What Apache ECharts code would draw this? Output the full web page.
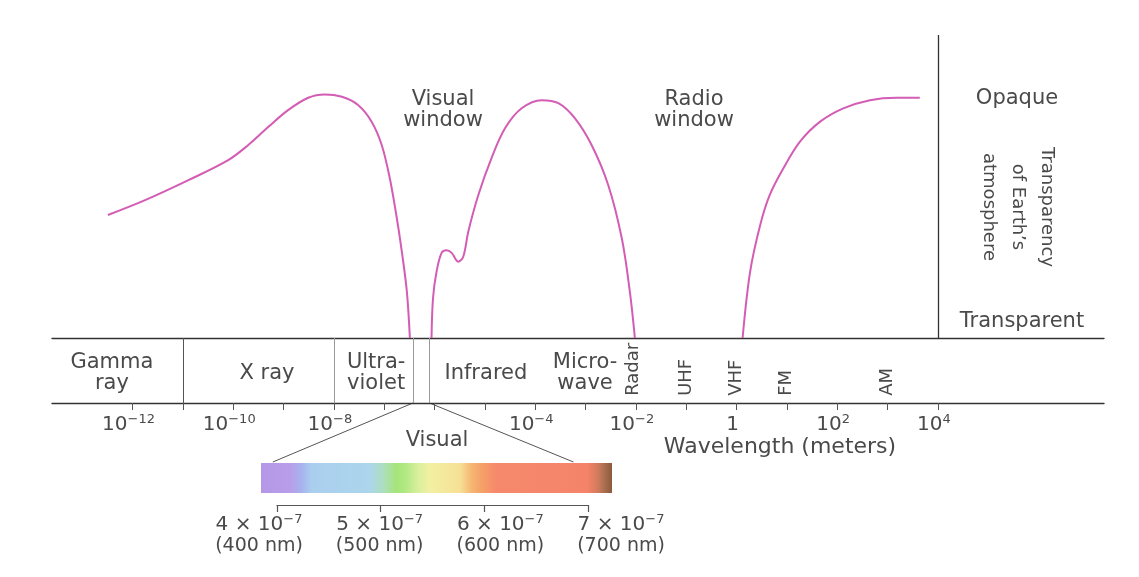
<!DOCTYPE html>
<html><head><meta charset="utf-8">
<script src="https://cdn.jsdelivr.net/npm/echarts@6/dist/echarts.min.js"></script>
<style>html,body{margin:0;padding:0;background:#fff}#c{width:1139px;height:577px}</style>
</head><body><div id="c"></div>
<script>
// ---- data (x = log10 of wavelength in metres, y = opacity of the atmosphere, 0..100) ----
const curveUV = [[-12.49,40.6],[-11.75,45.5],[-10.89,52.1],[-10.10,58.7],[-9.70,63.7],[-9.30,69.7],[-8.91,75.2],[-8.51,79.3],[-8.18,80.4],[-7.84,79.6],[-7.52,76.9],[-7.25,71.4],[-7.05,63.7],[-6.89,52.8],[-6.75,39.6],[-6.65,28.5],[-6.55,15.3],[-6.49,0]];
const curveIR = [[-6.06,0],[-6.03,13.2],[-5.96,21.9],[-5.86,28.1],[-5.76,29.0],[-5.66,28.1],[-5.53,25.2],[-5.43,26.8],[-5.33,35.1],[-5.13,47.2],[-4.87,59.3],[-4.60,69.2],[-4.27,75.8],[-3.87,78.5],[-3.54,77.5],[-3.21,72.5],[-2.88,63.7],[-2.55,50.5],[-2.28,32.9],[-2.12,15.3],[-2.02,0]];
const curveRadio = [[0.12,0],[0.27,21.9],[0.47,37.3],[0.66,47.2],[0.93,56.0],[1.26,64.8],[1.66,71.4],[2.12,75.8],[2.65,78.5],[3.18,79.3],[3.64,79.3]];
const tickDecades = [-12,-11,-10,-9,-8,-7,-6,-5,-4,-3,-2,-1,0,1,2,3,4];
const labelDecades = [-12,-10,-8,-4,-2,0,2,4];
const bandBoundaries = [-11, -8, -6.43, -6.1];
const bandNames = ['Gamma\nray', 'X ray', 'Ultra-\nviolet', 'Infrared', 'Micro-\nwave'];
const bandCenters = [-12.41, -9.33, -7.16, -4.98, -3.01];
const radioNames = ['Radar', 'UHF', 'VHF', 'FM', 'AM'];
const radioCenters = [-2.06, -1.0, 0.0, 0.99, 3.0];
const opaqueAxisAt = 4;
const spectrumRange = [384.6, 723.2];       // nm, extent of the colour bar
const nmTicks = [400, 500, 600, 700];
const nmLabels = ['4', '5', '6', '7'];
const visualEdges = [-6.43, -6.1];          // log10 m, edges of visual window
const spectrumEdges = [396, 686];           // nm, where the connectors meet the bar

const TXT = '#4a4a4a';
const FF = '"DejaVu Sans", sans-serif';
const CURVE = '#d35db4';

const chart = echarts.init(document.getElementById('c'), null, {renderer: 'canvas'});

function decadeLabel(v) {
  const n = Math.round(v);
  if (n === 0) return '{b|1}';
  return '{b|10}{s|' + (n < 0 ? '\u2212' : '') + Math.abs(n) + '}';
}

const curveLine = (data) => ({
  type: 'line', xAxisIndex: 0, yAxisIndex: 0, data, smooth: 0.35,
  showSymbol: false, symbol: 'none', silent: true,
  lineStyle: {color: CURVE, width: 2}
});

const option = {
  animation: false,
  backgroundColor: '#ffffff',
  grid: [
    {left: 52, right: 35, top: 35, bottom: 239},      // curve
    {left: 52, right: 35, top: 338, bottom: 174},     // band strip
    {left: 261, right: 527, top: 463, bottom: 84},    // colour bar
    {left: 277, right: 551, top: 495, bottom: 72},    // bracket
    {left: 259, right: 518, top: 495, bottom: 72}     // bracket labels
  ],
  xAxis: [
    {gridIndex: 0, type: 'value', min: -13.6, max: 7.3,
      axisLine: {show: true, lineStyle: {color: '#333', width: 1.4}},
      axisTick: {show: false}, axisLabel: {show: false}, splitLine: {show: false}},
    {gridIndex: 1, type: 'value', min: -13.6, max: 7.3,
      axisLine: {show: true, lineStyle: {color: '#333', width: 1.4}},
      axisTick: {show: true, customValues: tickDecades, length: 7, lineStyle: {color: '#555', width: 1}},
      axisLabel: {show: true, customValues: labelDecades, margin: 10, padding: [0, 8, 0, 0],
        formatter: decadeLabel,
        rich: {
          b: {fontFamily: FF, fontSize: 20, lineHeight: 22, color: TXT, verticalAlign: 'bottom'},
          s: {fontFamily: FF, fontSize: 13, lineHeight: 13, color: TXT, verticalAlign: 'top'}
        }},
      splitLine: {show: false}},
    {gridIndex: 2, type: 'value', min: spectrumRange[0], max: spectrumRange[1], show: false},
    {gridIndex: 3, type: 'value', min: 400, max: 700,
      axisLine: {show: true, lineStyle: {color: '#555', width: 1.2}},
      axisTick: {show: true, customValues: nmTicks, length: 7, lineStyle: {color: '#555', width: 1.2}},
      axisLabel: {show: false}, splitLine: {show: false}},
    {gridIndex: 4, type: 'value', min: 400, max: 700,
      axisLine: {show: false}, axisTick: {show: false}, splitLine: {show: false},
      axisLabel: {show: true, customValues: nmTicks, margin: 8,
        formatter: (v) => {
          const i = nmTicks.indexOf(Math.round(v));
          return '{a|' + nmLabels[i] + ' \u00d7 10}{s|\u22127}\n{n|(' + Math.round(v) + ' nm)}';
        },
        rich: {
          a: {fontFamily: FF, fontSize: 20, lineHeight: 22, color: TXT, verticalAlign: 'bottom'},
          s: {fontFamily: FF, fontSize: 13, lineHeight: 13, color: TXT, verticalAlign: 'top'},
          n: {fontFamily: FF, fontSize: 19, lineHeight: 22, color: TXT}
        }}}
  ],
  yAxis: [
    {gridIndex: 0, type: 'value', min: 0, max: 100, show: false},
    {gridIndex: 1, type: 'value', min: 0, max: 1, show: false},
    {gridIndex: 2, type: 'value', min: 0, max: 1, show: false},
    {gridIndex: 3, type: 'value', min: 0, max: 1, show: false},
    {gridIndex: 4, type: 'value', min: 0, max: 1, show: false}
  ],
  series: [
    Object.assign(curveLine(curveUV), {
      markLine: {silent: true, symbol: 'none', label: {show: false},
        lineStyle: {color: '#333', width: 1.3, type: 'solid'},
        data: [{xAxis: opaqueAxisAt}]}
    }),
    curveLine(curveIR),
    curveLine(curveRadio),
    {
      type: 'scatter', xAxisIndex: 1, yAxisIndex: 1, symbolSize: 0, silent: true,
      itemStyle: {opacity: 1},
      data: bandCenters.map((x, i) => ({value: [x, 0.46], name: bandNames[i]})),
      label: {show: true, position: 'inside', formatter: '{b}', color: TXT, opacity: 1,
        fontFamily: FF, fontSize: 21, lineHeight: 21, align: 'center', verticalAlign: 'middle'},
      markLine: {silent: true, symbol: 'none', label: {show: false},
        lineStyle: {color: '#777', width: 1, type: 'solid'},
        data: bandBoundaries.map((b, i) => ({xAxis: b,
          lineStyle: {color: i === 0 ? '#555' : '#999', width: 1, type: 'solid'}}))}
    },
    {
      type: 'scatter', xAxisIndex: 1, yAxisIndex: 1, symbolSize: 0, silent: true,
      itemStyle: {opacity: 1},
      data: radioCenters.map((x, i) => ({value: [x, 0.11], name: radioNames[i]})),
      label: {show: true, position: 'inside', formatter: '{b}', color: TXT, rotate: 90, opacity: 1,
        fontFamily: FF, fontSize: 18, align: 'left', verticalAlign: 'middle'}
    },
    {
      type: 'custom', xAxisIndex: 2, yAxisIndex: 2, silent: true,
      data: [[spectrumRange[0], spectrumRange[1]]],
      renderItem: (params, api) => {
        const p0 = api.coord([api.value(0), 1]);
        const p1 = api.coord([api.value(1), 0]);
        return {
          type: 'rect',
          shape: {x: p0[0], y: p0[1], width: p1[0] - p0[0], height: p1[1] - p0[1]},
          style: {fill: new echarts.graphic.LinearGradient(0, 0, 1, 0, [
            {offset: 0, color: '#b497e6'},
            {offset: 0.083, color: '#b99de9'},
            {offset: 0.115, color: '#a6b2ee'},
            {offset: 0.145, color: '#aacfee'},
            {offset: 0.31, color: '#acd6ec'},
            {offset: 0.353, color: '#addfb8'},
            {offset: 0.385, color: '#a6e47a'},
            {offset: 0.41, color: '#b0e882'},
            {offset: 0.447, color: '#d8ef9c'},
            {offset: 0.48, color: '#f2f0a2'},
            {offset: 0.567, color: '#f6e096'},
            {offset: 0.6, color: '#f6b672'},
            {offset: 0.63, color: '#f5a066'},
            {offset: 0.67, color: '#f6896c'},
            {offset: 0.93, color: '#f4836a'},
            {offset: 0.96, color: '#d27a5d'},
            {offset: 0.98, color: '#a66d4e'},
            {offset: 1, color: '#8c5a3c'}
          ])}
        };
      }
    }
  ],
  graphic: [
    {id: 't-vw', type: 'text', x: 443, y: 110, silent: true,
      style: {text: 'Visual\nwindow', font: '21px ' + FF, fill: TXT, align: 'center', verticalAlign: 'middle',
        textAlign: 'center', textVerticalAlign: 'middle', lineHeight: 21}},
    {id: 't-rw', type: 'text', x: 694, y: 110, silent: true,
      style: {text: 'Radio\nwindow', font: '21px ' + FF, fill: TXT, align: 'center', verticalAlign: 'middle',
        textAlign: 'center', textVerticalAlign: 'middle', lineHeight: 21}},
    {id: 't-op', type: 'text', x: 1017, y: 99, silent: true,
      style: {text: 'Opaque', font: '21px ' + FF, fill: TXT, align: 'center', verticalAlign: 'middle',
        textAlign: 'center', textVerticalAlign: 'middle'}},
    {id: 't-tr', type: 'text', x: 1022, y: 322, silent: true,
      style: {text: 'Transparent', font: '21px ' + FF, fill: TXT, align: 'center', verticalAlign: 'middle',
        textAlign: 'center', textVerticalAlign: 'middle'}},
    {id: 't-te', type: 'text', x: 1018, y: 207, rotation: -Math.PI / 2, silent: true,
      style: {text: 'Transparency\nof Earth\u2019s\natmosphere', font: '18px ' + FF, fill: TXT,
        align: 'center', verticalAlign: 'middle', textAlign: 'center', textVerticalAlign: 'middle', lineHeight: 29}},
    {id: 't-wl', type: 'text', x: 780, y: 447, silent: true,
      style: {text: 'Wavelength (meters)', font: '22px ' + FF, fill: TXT, align: 'center', verticalAlign: 'middle',
        textAlign: 'center', textVerticalAlign: 'middle'}},
    {id: 't-vis', type: 'text', x: 437, y: 441, silent: true,
      style: {text: 'Visual', font: '21px ' + FF, fill: TXT, align: 'center', verticalAlign: 'middle',
        textAlign: 'center', textVerticalAlign: 'middle'}}
  ]
};
chart.setOption(option);

// connectors from the visual window on the wavelength axis to the colour bar
const a0 = chart.convertToPixel({xAxisIndex: 1, yAxisIndex: 1}, [visualEdges[0], 0]);
const a1 = chart.convertToPixel({xAxisIndex: 1, yAxisIndex: 1}, [visualEdges[1], 0]);
const b0 = chart.convertToPixel({xAxisIndex: 2, yAxisIndex: 2}, [spectrumEdges[0], 1]);
const b1 = chart.convertToPixel({xAxisIndex: 2, yAxisIndex: 2}, [spectrumEdges[1], 1]);
chart.setOption({graphic: [
  {id: 'c-l', type: 'line', silent: true, shape: {x1: a0[0], y1: a0[1], x2: b0[0], y2: b0[1] - 1},
    style: {stroke: '#555', lineWidth: 1}},
  {id: 'c-r', type: 'line', silent: true, shape: {x1: a1[0], y1: a1[1], x2: b1[0], y2: b1[1] - 1},
    style: {stroke: '#555', lineWidth: 1}}
]});
</script>
</body></html>
